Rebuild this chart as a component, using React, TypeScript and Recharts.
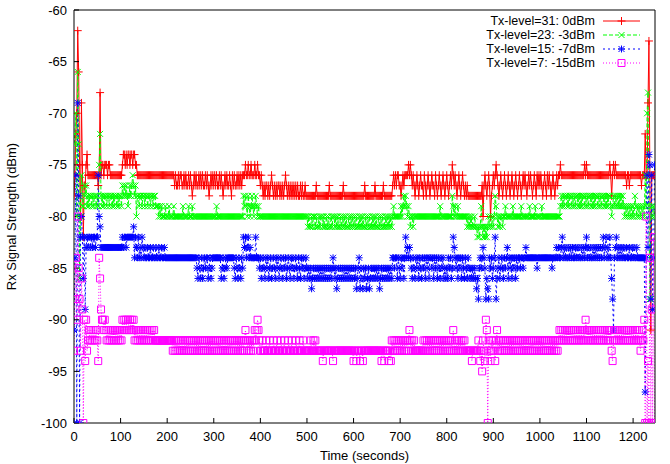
import React from 'react';
import { LineChart, Line, XAxis, YAxis, Legend, Label } from 'recharts';

// Sampling interval of the arrays below (seconds)
const SAMPLE_SECONDS = 2;

// Rx signal strength (dBm), one value every 2 s from t=0
const TX31_0DBM = [
  -78, -76, -72, -70, -62, -66, -75, -80, -69, -75,
  -82, -77, -77, -75, -74, -76, -76, -76, -76, -76,
  -76, -76, -76, -76, -76, -76, -77, -76, -68, -76,
  -75, -75, -76, -75, -75, -75, -76, -75, -75, -76,
  -76, -76, -76, -76, -76, -76, -76, -76, -76, -76,
  // 100 s
  -76, -76, -75, -74, -74, -75, -74, -75, -74, -74,
  -75, -74, -74, -75, -74, -74, -75, -75, -76, -76,
  -76, -76, -76, -76, -76, -76, -76, -76, -76, -76,
  -76, -76, -76, -76, -76, -76, -76, -76, -76, -76,
  -76, -76, -76, -76, -76, -76, -76, -76, -76, -76,
  // 200 s
  -76, -76, -76, -76, -76, -76, -76, -76, -77, -76,
  -77, -77, -76, -77, -76, -76, -77, -77, -76, -77,
  -76, -77, -77, -76, -77, -76, -77, -78, -77, -76,
  -77, -76, -77, -77, -76, -77, -76, -77, -76, -77,
  -77, -76, -77, -76, -77, -78, -77, -76, -77, -76,
  // 300 s
  -77, -76, -77, -76, -77, -77, -76, -77, -76, -77,
  -78, -77, -76, -77, -76, -77, -77, -76, -77, -78,
  -76, -77, -76, -77, -77, -76, -77, -76, -77, -76,
  -77, -76, -76, -76, -75, -76, -76, -75, -76, -76,
  -75, -76, -76, -76, -75, -76, -76, -75, -76, -76,
  // 400 s
  -77, -76, -77, -78, -77, -78, -77, -77, -78, -77,
  -78, -77, -76, -77, -78, -77, -78, -77, -78, -77,
  -77, -78, -77, -78, -77, -78, -77, -76, -77, -78,
  -77, -78, -77, -78, -77, -78, -77, -78, -77, -78,
  -77, -78, -78, -77, -78, -77, -78, -78, -77, -78,
  // 500 s
  -78, -78, -78, -78, -78, -78, -78, -78, -78, -78,
  -77, -78, -78, -78, -78, -78, -78, -78, -78, -78,
  -78, -78, -78, -78, -77, -78, -78, -78, -78, -78,
  -78, -78, -78, -78, -78, -78, -78, -78, -78, -77,
  -78, -78, -78, -78, -78, -78, -78, -78, -78, -78,
  // 600 s
  -78, -78, -78, -78, -78, -78, -78, -78, -78, -78,
  -78, -78, -77, -78, -78, -78, -78, -78, -78, -78,
  -78, -78, -78, -77, -78, -78, -78, -78, -78, -78,
  -78, -78, -77, -78, -78, -78, -78, -78, -78, -78,
  -78, -78, -77, -76, -77, -76, -77, -76, -76, -77,
  // 700 s
  -77, -78, -77, -76, -77, -76, -76, -76, -76, -75,
  -76, -75, -76, -77, -76, -77, -78, -77, -76, -77,
  -78, -77, -76, -77, -77, -78, -76, -77, -78, -77,
  -76, -77, -78, -77, -76, -77, -77, -78, -76, -77,
  -78, -77, -76, -77, -78, -77, -76, -77, -78, -77,
  // 800 s
  -76, -77, -78, -77, -76, -77, -75, -76, -77, -76,
  -77, -78, -77, -76, -77, -78, -77, -76, -77, -78,
  -77, -78, -77, -78, -78, -78, -78, -78, -78, -78,
  -78, -78, -78, -78, -78, -78, -78, -78, -77, -80,
  -77, -76, -77, -78, -77, -76, -77, -80, -78, -77,
  // 900 s
  -76, -77, -76, -75, -76, -77, -78, -77, -76, -77,
  -78, -77, -76, -77, -78, -77, -76, -77, -78, -77,
  -76, -77, -78, -77, -76, -77, -78, -77, -76, -77,
  -78, -77, -76, -77, -76, -77, -78, -77, -76, -77,
  -76, -77, -78, -77, -76, -77, -78, -76, -77, -76,
  // 1000 s
  -77, -76, -77, -78, -77, -76, -77, -78, -76, -77,
  -76, -77, -78, -77, -76, -77, -78, -77, -76, -77,
  -76, -76, -75, -76, -76, -76, -76, -76, -76, -76,
  -76, -76, -76, -76, -76, -76, -76, -76, -76, -76,
  -76, -76, -76, -76, -76, -76, -76, -76, -75, -76,
  // 1100 s
  -75, -76, -76, -76, -76, -76, -76, -76, -76, -76,
  -76, -76, -76, -76, -76, -76, -76, -76, -76, -76,
  -76, -76, -76, -76, -76, -75, -76, -78, -76, -75,
  -76, -75, -76, -76, -76, -76, -76, -76, -76, -76,
  -76, -76, -76, -77, -76, -76, -77, -76, -76, -76,
  // 1200 s
  -76, -76, -76, -76, -76, -76, -76, -76, -76, -77,
  -76, -76, -76, -72, -76, -76, -69, -63, -76, -91,
  -76, -76, -76, -76,
];

const TX23_M3DBM = [
  -73, -72, -70, -80, -66, -73, -86, -80, -76, -79,
  -79, -77, -78, -77, -79, -78, -79, -78, -78, -79,
  -78, -79, -78, -78, -79, -78, -79, -75, -72, -78,
  -79, -78, -79, -78, -78, -79, -78, -78, -79, -78,
  -78, -79, -78, -79, -78, -78, -79, -78, -79, -78,
  // 100 s
  -78, -79, -77, -78, -77, -78, -77, -78, -79, -78,
  -77, -78, -77, -76, -77, -78, -77, -80, -78, -78,
  -79, -78, -78, -79, -78, -78, -79, -78, -78, -79,
  -78, -78, -79, -78, -78, -79, -78, -78, -79, -79,
  -79, -80, -79, -80, -79, -80, -80, -80, -79, -80,
  // 200 s
  -80, -80, -79, -80, -80, -80, -80, -79, -80, -80,
  -80, -80, -80, -80, -80, -80, -80, -79, -80, -80,
  -80, -80, -80, -79, -80, -80, -80, -79, -80, -80,
  -80, -80, -80, -80, -80, -80, -80, -80, -80, -80,
  -80, -80, -80, -80, -80, -80, -80, -80, -80, -80,
  // 300 s
  -80, -80, -80, -79, -80, -80, -80, -80, -80, -80,
  -80, -80, -80, -80, -80, -80, -80, -80, -80, -80,
  -80, -80, -80, -80, -80, -80, -80, -80, -80, -80,
  -80, -80, -78, -79, -78, -79, -80, -78, -79, -80,
  -79, -78, -79, -80, -79, -78, -79, -80, -79, -80,
  // 400 s
  -80, -80, -80, -80, -80, -80, -80, -80, -80, -80,
  -80, -80, -80, -80, -80, -80, -80, -80, -80, -80,
  -80, -80, -80, -80, -80, -80, -80, -80, -80, -80,
  -80, -80, -80, -80, -80, -80, -80, -80, -80, -80,
  -80, -80, -80, -80, -80, -80, -80, -80, -80, -80,
  // 500 s
  -80, -81, -80, -81, -81, -80, -81, -80, -80, -81,
  -80, -81, -81, -80, -81, -80, -80, -81, -80, -81,
  -81, -80, -81, -80, -81, -81, -80, -81, -80, -80,
  -81, -80, -81, -80, -81, -81, -80, -81, -80, -81,
  -80, -81, -80, -81, -81, -80, -81, -80, -81, -80,
  // 600 s
  -81, -80, -81, -80, -81, -81, -80, -81, -80, -81,
  -80, -81, -81, -80, -81, -80, -81, -80, -81, -81,
  -80, -81, -80, -81, -80, -81, -81, -80, -81, -80,
  -81, -80, -81, -81, -80, -81, -80, -81, -80, -81,
  -80, -81, -80, -79, -80, -80, -80, -80, -80, -80,
  // 700 s
  -80, -79, -80, -79, -78, -79, -78, -79, -80, -79,
  -80, -81, -80, -80, -81, -80, -80, -80, -80, -80,
  -80, -80, -80, -80, -80, -80, -80, -80, -80, -80,
  -80, -80, -80, -80, -80, -80, -80, -80, -80, -80,
  -80, -80, -80, -79, -80, -80, -80, -80, -80, -80,
  // 800 s
  -80, -80, -80, -80, -80, -80, -78, -79, -80, -79,
  -80, -80, -79, -80, -80, -80, -80, -80, -80, -80,
  -80, -80, -81, -80, -81, -80, -81, -80, -81, -81,
  -80, -81, -81, -82, -81, -82, -81, -79, -81, -82,
  -81, -82, -81, -82, -81, -80, -81, -80, -81, -80,
  // 900 s
  -81, -80, -78, -79, -80, -81, -80, -81, -80, -80,
  -81, -80, -80, -79, -80, -80, -80, -80, -80, -80,
  -80, -79, -80, -80, -80, -80, -80, -80, -80, -80,
  -79, -80, -80, -80, -80, -80, -80, -80, -80, -79,
  -80, -80, -80, -80, -80, -79, -80, -80, -80, -80,
  // 1000 s
  -80, -80, -79, -80, -80, -80, -80, -80, -80, -80,
  -80, -80, -80, -80, -80, -80, -80, -80, -80, -80,
  -80, -80, -79, -78, -79, -78, -79, -78, -78, -79,
  -78, -79, -78, -78, -79, -78, -79, -78, -79, -78,
  -78, -79, -78, -79, -78, -79, -78, -78, -79, -78,
  // 1100 s
  -79, -78, -79, -78, -78, -79, -78, -79, -78, -79,
  -78, -78, -79, -78, -79, -78, -79, -78, -78, -79,
  -78, -79, -78, -79, -78, -78, -79, -80, -79, -78,
  -79, -78, -79, -78, -79, -78, -79, -78, -79, -78,
  -79, -80, -79, -80, -79, -80, -79, -80, -79, -80,
  // 1200 s
  -79, -80, -78, -79, -80, -79, -80, -79, -80, -79,
  -80, -79, -80, -76, -79, -70, -68, -79, -88, -80,
  -79, -80, -79, -80,
];

const TX15_M7DBM = [
  -91, -84, -76, -100, -69, -78, -100, -82, -80, -82,
  -86, -82, -89, -83, -82, -83, -82, -82, -83, -82,
  -83, -82, -82, -83, -82, -82, -76, -80, -81, -83,
  -83, -83, -83, -83, -83, -83, -83, -83, -83, -83,
  -83, -83, -83, -83, -83, -83, -83, -83, -83, -83,
  // 100 s
  -83, -83, -82, -83, -82, -82, -83, -82, -82, -82,
  -82, -82, -82, -82, -81, -84, -82, -83, -84, -82,
  -84, -83, -84, -82, -83, -84, -83, -84, -84, -83,
  -84, -84, -83, -84, -84, -83, -84, -84, -83, -84,
  -84, -83, -84, -84, -83, -84, -84, -83, -84, -84,
  // 200 s
  -84, -84, -84, -84, -84, -84, -84, -84, -84, -84,
  -84, -84, -84, -84, -84, -84, -84, -84, -84, -84,
  -84, -84, -84, -84, -84, -84, -84, -84, -84, -84,
  -84, -84, -85, -86, -84, -85, -86, -84, -86, -85,
  -84, -85, -84, -84, -86, -85, -84, -86, -85, -84,
  // 300 s
  -84, -84, -84, -84, -84, -84, -84, -84, -86, -85,
  -84, -86, -85, -84, -85, -84, -84, -84, -84, -84,
  -84, -84, -85, -86, -84, -85, -86, -84, -85, -86,
  -84, -85, -82, -83, -82, -84, -83, -82, -84, -83,
  -84, -84, -84, -84, -84, -82, -84, -84, -84, -85,
  // 400 s
  -84, -86, -85, -84, -85, -86, -84, -85, -84, -86,
  -85, -84, -86, -85, -84, -85, -86, -84, -85, -84,
  -86, -85, -84, -85, -86, -84, -85, -84, -86, -85,
  -84, -85, -86, -84, -85, -84, -86, -85, -84, -85,
  -86, -84, -85, -86, -84, -85, -84, -86, -85, -84,
  // 500 s
  -85, -86, -85, -86, -85, -87, -86, -85, -86, -85,
  -86, -85, -86, -85, -86, -85, -86, -85, -86, -85,
  -86, -85, -86, -85, -86, -85, -86, -85, -84, -85,
  -86, -85, -87, -86, -85, -86, -85, -86, -85, -86,
  -85, -86, -85, -86, -85, -86, -85, -86, -85, -86,
  // 600 s
  -85, -86, -85, -87, -86, -85, -84, -87, -85, -86,
  -87, -85, -86, -85, -87, -86, -85, -87, -86, -85,
  -86, -85, -86, -85, -86, -85, -86, -85, -87, -86,
  -85, -86, -85, -86, -85, -86, -85, -86, -85, -86,
  -85, -86, -84, -84, -85, -84, -84, -86, -84, -85,
  // 700 s
  -86, -84, -85, -84, -86, -84, -82, -84, -83, -84,
  -83, -84, -85, -86, -84, -85, -86, -84, -85, -84,
  -86, -84, -85, -86, -84, -85, -84, -86, -84, -85,
  -84, -86, -84, -84, -85, -84, -86, -84, -85, -84,
  -86, -84, -85, -86, -84, -85, -84, -86, -85, -86,
  // 800 s
  -85, -86, -84, -85, -84, -86, -85, -82, -83, -84,
  -85, -84, -86, -84, -85, -84, -86, -84, -85, -86,
  -84, -85, -86, -84, -85, -86, -85, -86, -85, -86,
  -85, -86, -87, -86, -88, -85, -84, -85, -84, -83,
  -84, -85, -88, -86, -87, -88, -84, -85, -84, -86,
  // 900 s
  -85, -84, -82, -88, -86, -85, -84, -86, -85, -84,
  -85, -86, -84, -85, -84, -83, -86, -84, -85, -84,
  -86, -84, -85, -84, -86, -84, -85, -84, -84, -85,
  -84, -84, -85, -84, -84, -83, -84, -84, -84, -84,
  -84, -84, -84, -84, -84, -84, -84, -85, -84, -84,
  // 1000 s
  -84, -84, -84, -84, -84, -84, -84, -84, -84, -84,
  -84, -84, -84, -85, -84, -84, -84, -84, -83, -84,
  -83, -84, -84, -83, -82, -84, -83, -84, -83, -84,
  -84, -83, -84, -83, -84, -83, -84, -84, -83, -84,
  -83, -84, -83, -84, -84, -83, -84, -83, -84, -83,
  // 1100 s
  -82, -84, -83, -84, -83, -84, -84, -83, -84, -83,
  -84, -83, -84, -83, -84, -83, -84, -83, -82, -84,
  -83, -82, -84, -83, -84, -82, -84, -86, -88, -91,
  -84, -83, -82, -84, -83, -84, -83, -84, -83, -84,
  -83, -84, -84, -83, -84, -84, -83, -84, -84, -83,
  // 1200 s
  -84, -83, -84, -84, -83, -84, -84, -84, -84, -84,
  -84, -84, -84, -97, -84, -76, -83, -74, -75, -88,
  -76, -89, -84, -75,
];

const TX7_M15DBM = [
  -93, -88, -84, -90, -80, -85, -88, -93, -86, -89,
  -100, -90, -94, -90, -93, -92, -91, -92, -91, -92,
  -91, -92, -91, -92, -91, -92, -94, -84, -86, -89,
  -90, -90, -91, -90, -91, -92, -91, -92, -91, -92,
  -91, -92, -91, -92, -91, -92, -91, -92, -91, -92,
  // 100 s
  -91, -92, -90, -91, -90, -91, -90, -91, -90, -91,
  -90, -91, -90, -91, -90, -92, -91, -92, -91, -92,
  -91, -92, -91, -92, -91, -92, -91, -92, -91, -92,
  -91, -92, -91, -92, -91, -92, -91, -92, -92, -92,
  -92, -92, -92, -92, -92, -92, -92, -92, -92, -92,
  // 200 s
  -92, -92, -92, -92, -92, -92, -93, -92, -93, -92,
  -93, -92, -93, -92, -93, -92, -93, -92, -93, -92,
  -93, -92, -93, -92, -93, -92, -93, -92, -93, -92,
  -93, -92, -93, -92, -93, -92, -93, -92, -93, -92,
  -93, -92, -93, -92, -93, -92, -93, -92, -93, -92,
  // 300 s
  -93, -92, -93, -92, -93, -92, -93, -92, -93, -92,
  -93, -92, -93, -92, -93, -92, -93, -92, -93, -92,
  -93, -92, -93, -92, -93, -92, -93, -92, -93, -92,
  -93, -92, -93, -92, -91, -92, -93, -92, -93, -92,
  -93, -92, -93, -92, -91, -92, -91, -90, -91, -92,
  // 400 s
  -93, -93, -92, -93, -93, -93, -92, -93, -93, -93,
  -92, -93, -93, -93, -92, -93, -93, -93, -92, -93,
  -93, -93, -92, -93, -93, -93, -92, -93, -93, -93,
  -92, -93, -93, -93, -92, -93, -93, -93, -92, -93,
  -93, -93, -92, -93, -93, -93, -92, -93, -93, -93,
  // 500 s
  -93, -93, -93, -93, -92, -93, -93, -92, -93, -92,
  -93, -93, -93, -93, -93, -93, -93, -94, -93, -93,
  -93, -93, -93, -93, -93, -93, -93, -93, -94, -93,
  -93, -93, -93, -93, -93, -93, -93, -93, -93, -93,
  -93, -93, -93, -93, -93, -93, -93, -93, -93, -93,
  // 600 s
  -94, -93, -93, -94, -93, -93, -93, -94, -93, -93,
  -94, -93, -93, -93, -93, -93, -93, -93, -93, -93,
  -93, -93, -93, -93, -93, -93, -93, -93, -93, -93,
  -94, -93, -93, -94, -93, -93, -93, -93, -94, -93,
  -94, -92, -93, -92, -93, -92, -93, -92, -93, -92,
  // 700 s
  -93, -92, -93, -92, -93, -92, -93, -92, -93, -92,
  -91, -92, -93, -92, -93, -92, -93, -93, -93, -93,
  -93, -93, -93, -93, -93, -92, -93, -92, -93, -92,
  -93, -92, -93, -92, -93, -92, -93, -92, -93, -92,
  -93, -92, -93, -92, -93, -92, -93, -92, -93, -92,
  // 800 s
  -93, -92, -93, -92, -93, -92, -93, -91, -93, -92,
  -93, -92, -93, -92, -93, -92, -93, -92, -93, -92,
  -93, -93, -93, -93, -93, -93, -93, -94, -93, -93,
  -93, -93, -93, -93, -92, -93, -94, -93, -95, -92,
  -93, -94, -90, -91, -100, -92, -93, -94, -92, -93,
  // 900 s
  -92, -93, -94, -92, -91, -93, -92, -93, -92, -93,
  -92, -93, -92, -93, -92, -93, -92, -93, -92, -93,
  -92, -93, -92, -93, -92, -93, -92, -93, -92, -93,
  -92, -93, -92, -93, -92, -93, -92, -93, -92, -93,
  -92, -93, -92, -93, -92, -93, -92, -93, -92, -93,
  // 1000 s
  -92, -93, -92, -93, -92, -93, -92, -93, -92, -93,
  -92, -93, -92, -93, -92, -93, -92, -93, -92, -93,
  -92, -91, -92, -91, -92, -91, -92, -91, -92, -91,
  -92, -91, -92, -91, -92, -91, -92, -91, -92, -91,
  -92, -91, -92, -91, -92, -91, -92, -91, -92, -90,
  // 1100 s
  -91, -92, -91, -92, -91, -92, -91, -92, -91, -92,
  -91, -92, -91, -92, -91, -92, -91, -92, -91, -92,
  -91, -92, -91, -92, -91, -92, -91, -93, -94, -92,
  -91, -92, -91, -92, -91, -92, -91, -92, -91, -92,
  -91, -92, -91, -92, -91, -92, -91, -92, -91, -92,
  // 1200 s
  -91, -92, -91, -92, -91, -92, -91, -92, -93, -92,
  -91, -92, -90, -100, -80, -100, -94, -100, -84, -100,
  -89, -100, -82, -100,
];

const X_TICKS = [0, 100, 200, 300, 400, 500, 600, 700, 800, 900, 1000, 1100, 1200];
const Y_TICKS = [-100, -95, -90, -85, -80, -75, -70, -65, -60];
const X_MAX = 1247;

const LEGEND_LABELS = ['Tx-level=31: 0dBm', 'Tx-level=23: -3dBm', 'Tx-level=15: -7dBm', 'Tx-level=7: -15dBm'];

type MarkerKind = 'plus' | 'cross' | 'star' | 'square';

const SERIES: { key: string; label: string; color: string; dash?: string; marker: MarkerKind }[] = [
  { key: 'tx31', label: LEGEND_LABELS[0], color: '#ff0000', marker: 'plus' },
  { key: 'tx23', label: LEGEND_LABELS[1], color: '#00ff00', dash: '4 2', marker: 'cross' },
  { key: 'tx15', label: LEGEND_LABELS[2], color: '#0000ff', dash: '2 3', marker: 'star' },
  { key: 'tx7', label: LEGEND_LABELS[3], color: '#ff00ff', dash: '1 2', marker: 'square' },
];

const chartData = TX31_0DBM.map((v, i) => ({
  time: i * SAMPLE_SECONDS,
  tx31: v,
  tx23: TX23_M3DBM[i],
  tx15: TX15_M7DBM[i],
  tx7: TX7_M15DBM[i],
}));

const FONT = '"Liberation Sans", Arial, Helvetica, sans-serif';

function markerPath(kind: MarkerKind, x: number, y: number): string {
  switch (kind) {
    case 'plus':
      return `M${x - 4},${y}H${x + 4}M${x},${y - 4}V${y + 4}`;
    case 'cross':
      return `M${x - 3},${y - 3}L${x + 3},${y + 3}M${x - 3},${y + 3}L${x + 3},${y - 3}`;
    case 'star':
      return `M${x - 3.5},${y}H${x + 3.5}M${x},${y - 3.5}V${y + 3.5}M${x - 3},${y - 3}L${x + 3},${y + 3}M${x - 3},${y + 3}L${x + 3},${y - 3}`;
    default:
      return `M${x - 3.5},${y - 3.5}h7v7h-7Z`;
  }
}

const makeDot = (kind: MarkerKind, color: string) => (p: any) => {
  const { cx, cy, index } = p;
  if (typeof cx !== 'number' || typeof cy !== 'number') return <g key={`n-${kind}-${index}`} />;
  return (
    <path
      key={`d-${kind}-${index}`}
      d={markerPath(kind, cx, cy)}
      stroke={color}
      strokeWidth={1}
      fill="none"
    />
  );
};

const LegendBox = () => (
  <div style={{ fontFamily: FONT, fontSize: 12.5, lineHeight: '14px', color: '#000' }}>
    {SERIES.map((s) => (
      <div key={s.key} style={{ display: 'flex', alignItems: 'center', height: 14 }}>
        <span style={{ width: 215, textAlign: 'right', whiteSpace: 'nowrap' }}>{s.label}</span>
        <svg width={38} height={14} style={{ marginLeft: 8, display: 'block' }}>
          <line x1={0} y1={7} x2={37} y2={7} stroke={s.color} strokeWidth={1} strokeDasharray={s.dash} />
          <path d={markerPath(s.marker, 18.5, 7)} stroke={s.color} strokeWidth={1} fill="none" />
        </svg>
      </div>
    ))}
  </div>
);

export default function App() {
  return (
    <div style={{ position: 'absolute', left: 0, top: 0, width: 670, height: 464, background: '#fff' }}>
      <LineChart
        width={670}
        height={464}
        data={chartData}
        margin={{ top: 9, right: 14, bottom: 0, left: 0 }}
        style={{ fontFamily: FONT }}
      >
        <XAxis
          dataKey="time"
          type="number"
          domain={[0, X_MAX]}
          ticks={X_TICKS}
          interval={0}
          allowDataOverflow
          height={41}
          tickSize={-5}
          tickMargin={14}
          axisLine={{ stroke: '#000' }}
          tickLine={{ stroke: '#000' }}
          tick={{ fill: '#000', fontSize: 13, fontFamily: FONT }}
        >
          <Label value="Time (seconds)" position="insideBottom" offset={4} style={{ fill: '#000', fontSize: 13, fontFamily: FONT }} />
        </XAxis>
        <XAxis
          xAxisId="top"
          orientation="top"
          dataKey="time"
          type="number"
          domain={[0, X_MAX]}
          ticks={X_TICKS}
          interval={0}
          allowDataOverflow
          height={1}
          tickSize={-5}
          tick={false}
          axisLine={{ stroke: '#000' }}
          tickLine={{ stroke: '#000' }}
        />
        <YAxis
          type="number"
          domain={[-100, -60]}
          ticks={Y_TICKS}
          interval={0}
          allowDataOverflow
          width={74}
          tickSize={-5}
          tickMargin={12}
          axisLine={{ stroke: '#000' }}
          tickLine={{ stroke: '#000' }}
          tick={{ fill: '#000', fontSize: 13, fontFamily: FONT }}
        >
          <Label
            value="Rx Signal Strength (dBm)"
            angle={-90}
            position="insideLeft"
            offset={11}
            style={{ textAnchor: 'middle', fill: '#000', fontSize: 13, fontFamily: FONT }}
          />
        </YAxis>
        <YAxis
          yAxisId="right"
          orientation="right"
          type="number"
          domain={[-100, -60]}
          ticks={Y_TICKS}
          interval={0}
          allowDataOverflow
          width={1}
          tickSize={-5}
          tick={false}
          axisLine={{ stroke: '#000' }}
          tickLine={{ stroke: '#000' }}
        />
        {SERIES.map((s) => (
          <Line
            key={s.key}
            type="linear"
            dataKey={s.key}
            name={s.label}
            stroke={s.color}
            strokeWidth={1}
            strokeDasharray={s.dash}
            dot={makeDot(s.marker, s.color)}
            activeDot={false}
            isAnimationActive={false}
          />
        ))}
        <Legend
          layout="vertical"
          align="center"
          verticalAlign="middle"
          content={<LegendBox />}
          wrapperStyle={{ left: 380, top: 14, width: 265, height: 56 }}
        />
      </LineChart>
    </div>
  );
}
